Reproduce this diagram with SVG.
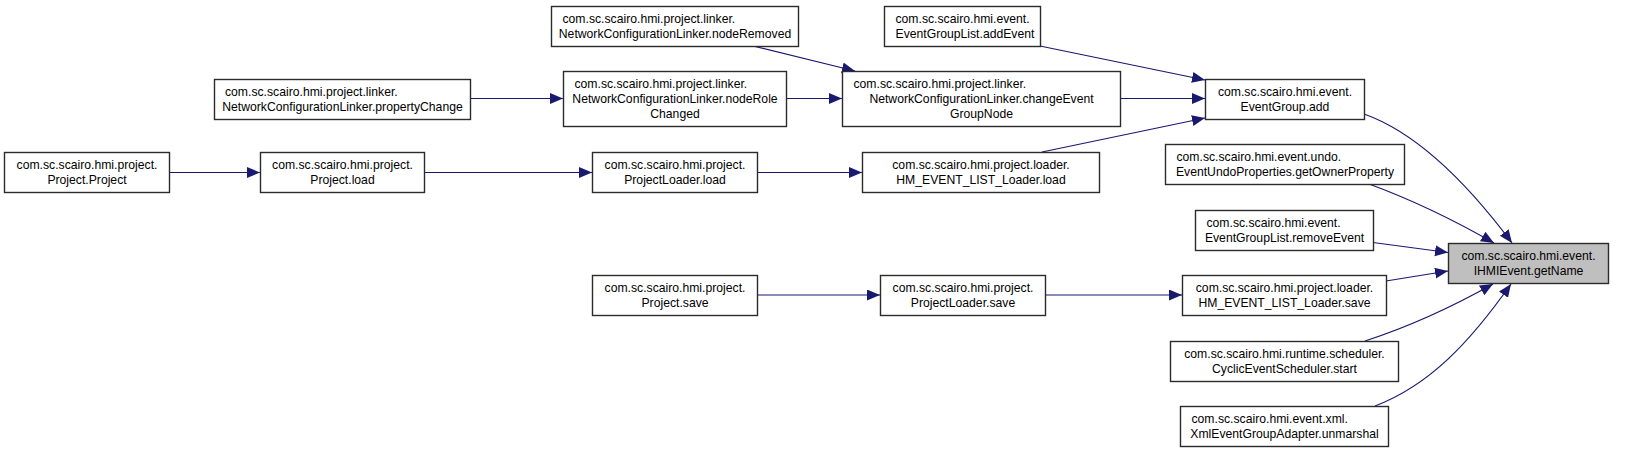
<svg xmlns="http://www.w3.org/2000/svg" width="1640" height="452" viewBox="0 0 1640 452">
<style>
.box{fill:#ffffff;stroke:#2b2b2b;stroke-width:1.4}
.hl{fill:#bfbfbf}
text{font-family:"Liberation Sans",Arial,sans-serif;font-size:12.2px;fill:#000}
.c{text-anchor:middle}
.e{fill:none;stroke:#191970;stroke-width:1.2}
</style>
<defs>
<marker id="arr" markerUnits="userSpaceOnUse" markerWidth="14" markerHeight="12" refX="13" refY="5.5" orient="auto">
<path d="M0,0 L13,5.5 L0,11 Z" fill="#191970"/>
</marker>
</defs>
<rect width="1640" height="452" fill="#ffffff"/>
<g id="connectors">
<path class="e" marker-end="url(#arr)" d="M169,172.5 L260,172.5"/>
<path class="e" marker-end="url(#arr)" d="M424,172.5 L592,172.5"/>
<path class="e" marker-end="url(#arr)" d="M757,172.5 L862,172.5"/>
<path class="e" marker-end="url(#arr)" d="M1042,152 L1205,118"/>
<path class="e" marker-end="url(#arr)" d="M470,98.5 L563,98.5"/>
<path class="e" marker-end="url(#arr)" d="M786,98.5 L842,98.5"/>
<path class="e" marker-end="url(#arr)" d="M753,46 L855,71"/>
<path class="e" marker-end="url(#arr)" d="M1040,46 L1205,80"/>
<path class="e" marker-end="url(#arr)" d="M1120,98.5 L1205,98.5"/>
<path class="e" marker-end="url(#arr)" d="M1364,114 C1412,131 1462,176 1512,243"/>
<path class="e" marker-end="url(#arr)" d="M1369,184 C1410,199 1452,219 1494,243"/>
<path class="e" marker-end="url(#arr)" d="M1373,242.5 L1448,252.5"/>
<path class="e" marker-end="url(#arr)" d="M1386,281 L1448,271"/>
<path class="e" marker-end="url(#arr)" d="M1365,341 C1405,328 1452,307 1493,284"/>
<path class="e" marker-end="url(#arr)" d="M1375,406 C1430,385 1470,342 1511,284"/>
<path class="e" marker-end="url(#arr)" d="M757,295 L880,295"/>
<path class="e" marker-end="url(#arr)" d="M1045,295 L1182,295"/>
</g>
<g id="n_project_project">
<rect class="box" x="4.5" y="152.5" width="165" height="40"/>
<text class="c" x="87" y="168.5">com.sc.scairo.hmi.project.</text>
<text class="c" x="87" y="183.5">Project.Project</text>
</g>
<g id="n_project_load">
<rect class="box" x="260.5" y="152.5" width="164" height="40"/>
<text class="c" x="342.5" y="168.5">com.sc.scairo.hmi.project.</text>
<text class="c" x="342.5" y="183.5">Project.load</text>
</g>
<g id="n_projectloader_load">
<rect class="box" x="592.5" y="152.5" width="165" height="40"/>
<text class="c" x="675" y="168.5">com.sc.scairo.hmi.project.</text>
<text class="c" x="675" y="183.5">ProjectLoader.load</text>
</g>
<g id="n_hm_load">
<rect class="box" x="862.5" y="152.5" width="237" height="40"/>
<text class="c" x="981" y="168.5">com.sc.scairo.hmi.project.loader.</text>
<text class="c" x="981" y="183.5">HM_EVENT_LIST_Loader.load</text>
</g>
<g id="n_propertychange">
<rect class="box" x="214.5" y="79.5" width="256" height="40"/>
<text x="225" y="95.5">com.sc.scairo.hmi.project.linker.</text>
<text class="c" x="342.5" y="110.5">NetworkConfigurationLinker.propertyChange</text>
</g>
<g id="n_noderolechanged">
<rect class="box" x="563.5" y="71.5" width="223" height="55"/>
<text x="574.5" y="87.5">com.sc.scairo.hmi.project.linker.</text>
<text class="c" x="675" y="102.5">NetworkConfigurationLinker.nodeRole</text>
<text class="c" x="675" y="117.5">Changed</text>
</g>
<g id="n_noderemoved">
<rect class="box" x="551.5" y="6.5" width="247" height="40"/>
<text x="562.5" y="22.5">com.sc.scairo.hmi.project.linker.</text>
<text class="c" x="675" y="37.5">NetworkConfigurationLinker.nodeRemoved</text>
</g>
<g id="n_changeeventgroupnode">
<rect class="box" x="842.5" y="71.5" width="278" height="55"/>
<text x="853.5" y="87.5">com.sc.scairo.hmi.project.linker.</text>
<text class="c" x="981.5" y="102.5">NetworkConfigurationLinker.changeEvent</text>
<text class="c" x="981.5" y="117.5">GroupNode</text>
</g>
<g id="n_addevent">
<rect class="box" x="884.5" y="6.5" width="156" height="40"/>
<text x="895.5" y="22.5">com.sc.scairo.hmi.event.</text>
<text x="895.5" y="37.5">EventGroupList.addEvent</text>
</g>
<g id="n_eventgroup_add">
<rect class="box" x="1205.5" y="79.5" width="159" height="40"/>
<text class="c" x="1285" y="95.5">com.sc.scairo.hmi.event.</text>
<text class="c" x="1285" y="110.5">EventGroup.add</text>
</g>
<g id="n_getownerproperty">
<rect class="box" x="1165.5" y="144.5" width="239" height="40"/>
<text x="1176.5" y="160.5">com.sc.scairo.hmi.event.undo.</text>
<text class="c" x="1285" y="175.5">EventUndoProperties.getOwnerProperty</text>
</g>
<g id="n_removeevent">
<rect class="box" x="1195.5" y="210.5" width="178" height="40"/>
<text x="1206.5" y="226.5">com.sc.scairo.hmi.event.</text>
<text class="c" x="1284.5" y="241.5">EventGroupList.removeEvent</text>
</g>
<g id="n_hm_save">
<rect class="box" x="1182.5" y="275.5" width="204" height="40"/>
<text class="c" x="1284.5" y="291.5">com.sc.scairo.hmi.project.loader.</text>
<text class="c" x="1284.5" y="306.5">HM_EVENT_LIST_Loader.save</text>
</g>
<g id="n_cyclic_start">
<rect class="box" x="1170.5" y="341.5" width="228" height="40"/>
<text class="c" x="1284.5" y="357.5">com.sc.scairo.hmi.runtime.scheduler.</text>
<text class="c" x="1284.5" y="372.5">CyclicEventScheduler.start</text>
</g>
<g id="n_unmarshal">
<rect class="box" x="1180.5" y="406.5" width="208" height="40"/>
<text x="1191.5" y="422.5">com.sc.scairo.hmi.event.xml.</text>
<text class="c" x="1284.5" y="437.5">XmlEventGroupAdapter.unmarshal</text>
</g>
<g id="n_project_save">
<rect class="box" x="592.5" y="275.5" width="165" height="40"/>
<text class="c" x="675" y="291.5">com.sc.scairo.hmi.project.</text>
<text class="c" x="675" y="306.5">Project.save</text>
</g>
<g id="n_projectloader_save">
<rect class="box" x="880.5" y="275.5" width="165" height="40"/>
<text class="c" x="963" y="291.5">com.sc.scairo.hmi.project.</text>
<text class="c" x="963" y="306.5">ProjectLoader.save</text>
</g>
<g id="n_getname">
<rect class="box hl" x="1448.5" y="243.5" width="160" height="40"/>
<text class="c" x="1528.5" y="259.5">com.sc.scairo.hmi.event.</text>
<text class="c" x="1528.5" y="274.5">IHMIEvent.getName</text>
</g>
</svg>
